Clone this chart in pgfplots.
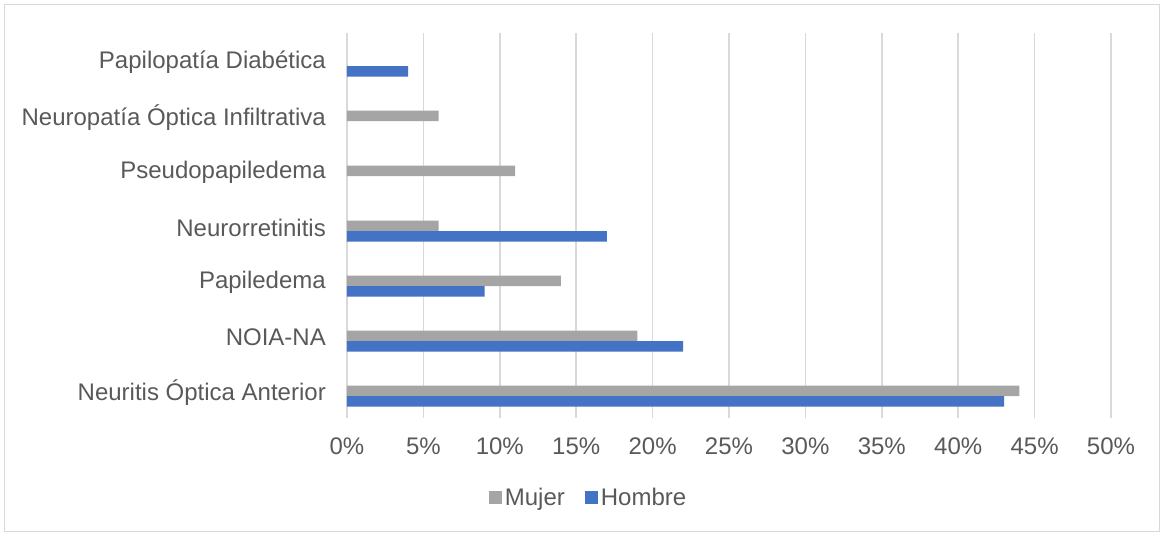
\documentclass[border=0pt]{standalone}
\usepackage{pgfplots}
\pgfplotsset{compat=1.18}
\usepackage{fontspec}
\setmainfont{Liberation Sans}
\definecolor{mujer}{HTML}{A5A5A5}
\definecolor{hombre}{HTML}{4472C4}
\definecolor{gridc}{HTML}{D9D9D9}
\definecolor{txt}{HTML}{595959}
\begin{document}
\begin{tikzpicture}
\path (0pt,0pt) rectangle (1163pt,536pt);
\draw[gridc, line width=1.2pt] (4.5pt,4.5pt) rectangle (1159.5pt,531.5pt);
\begin{axis}[
  at={(347pt,118pt)}, anchor=south west,
  scale only axis, width=764pt, height=385pt,
  xmin=0, xmax=50, ymin=-0.5, ymax=6.5,
  xbar, bar width=10.4pt,
  axis line style={draw=none},
  major tick length=0pt,
  xmajorgrids, grid style={gridc, line width=1.5pt},
  xtick={0,5,...,50},
  xticklabels={0\%,5\%,10\%,15\%,20\%,25\%,30\%,35\%,40\%,45\%,50\%},
  ytick={0,...,6},
  yticklabels={Neuritis Óptica Anterior,NOIA-NA,Papiledema,Neurorretinitis,Pseudopapiledema,Neuropatía Óptica Infiltrativa,Papilopatía Diabética},
  tick label style={font=\fontsize{24}{28}\selectfont, text=txt, inner sep=0pt},
  x tick label style={anchor=center, yshift=-28pt},
  y tick label style={anchor=east, xshift=-21pt, yshift=-2pt},
  legend style={at={(axis description cs:0.3168,-0.2078)}, anchor=center, draw=none, fill=none,
    legend columns=2, font=\fontsize{24}{28}\selectfont, text=txt,
    /tikz/every even column/.append style={column sep=18pt},
    nodes={inner sep=2.5pt}},
  legend image code/.code={\fill[#1,draw=none] (0pt,-6.5pt) rectangle (13pt,6.5pt);},
]
\addplot[fill=mujer, draw=none, bar shift=-0.3pt] coordinates {(44,0) (19,1) (14,2) (6,3) (11,4) (6,5)};
\addplot[fill=hombre, draw=none, bar shift=-10.8pt] coordinates {(43,0) (22,1) (9,2) (17,3) (4,6)};
\legend{Mujer,Hombre}
\end{axis}
\end{tikzpicture}
\end{document}
